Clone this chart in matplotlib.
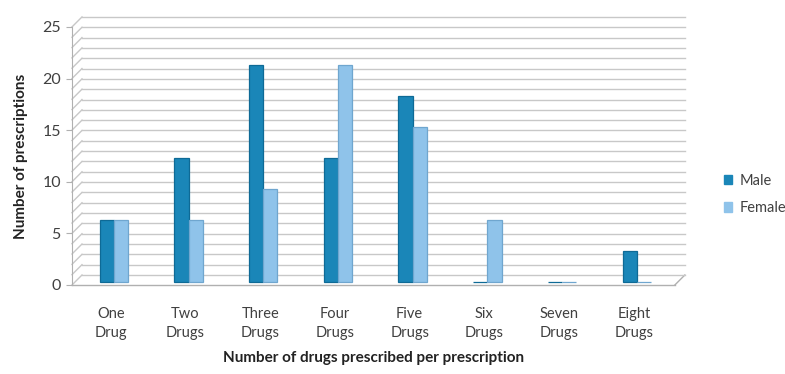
import numpy as np
import matplotlib
matplotlib.use("Agg")
import matplotlib.pyplot as plt
import matplotlib.transforms as mtransforms
from matplotlib.patches import Patch

plt.rcParams['font.family'] = ['Lato', 'DejaVu Sans']

categories = ["One\nDrug", "Two\nDrugs", "Three\nDrugs", "Four\nDrugs",
              "Five\nDrugs", "Six\nDrugs", "Seven\nDrugs", "Eight\nDrugs"]
male = [6, 12, 21, 12, 18, 0, 0, 3]
female = [6, 6, 9, 21, 15, 6, 0, 0]

male_color = "#1a86b8"
female_color = "#8fc3ea"
grid_color = "#c8c8c8"
text_color = "#404040"

fig = plt.figure(figsize=(7.85, 3.74), dpi=100, facecolor="w")
ax = fig.add_axes([0.0917, 0.238, 0.768, 0.690])

x = np.arange(len(categories))
xmin, xmax = -0.52, 7.55
ax.set_xlim(xmin, xmax)
ax.set_ylim(0, 25)

# offset for the back wall (pseudo 3D depth)
back = mtransforms.offset_copy(ax.transData, fig, x=10, y=10, units='dots')
mid = mtransforms.offset_copy(ax.transData, fig, x=3, y=3, units='dots')


def fig_line(p0, p1, color):
    W, H = fig.bbox.width, fig.bbox.height
    fig.add_artist(plt.Line2D([p0[0] / W, p1[0] / W], [p0[1] / H, p1[1] / H],
                              color=color, lw=1.0, zorder=0))


for v in range(0, 26):
    ax.plot([xmin, xmax], [v, v], color=grid_color, lw=1.0, transform=back,
            clip_on=False, zorder=0)
    # left side wall
    fig_line(ax.transData.transform((xmin, v)), back.transform((xmin, v)), grid_color)

# floor front edge and right edge
ax.plot([xmin, xmax], [0, 0], color="#b0b0b0", lw=1.0, clip_on=False, zorder=1)
fig_line(ax.transData.transform((xmax, 0)), back.transform((xmax, 0)), "#b0b0b0")

w = 0.19
b1 = ax.bar(x - w / 2, male, width=w, color=male_color, edgecolor="#0e6a96",
            linewidth=0.9, zorder=3)
b2 = ax.bar(x + w / 2, female, width=w, color=female_color, edgecolor="#6fa6cf",
            linewidth=0.9, zorder=3)
for p in list(b1) + list(b2):
    p.set_transform(mid)
    p.set_clip_on(False)

for s in ["top", "right", "bottom"]:
    ax.spines[s].set_visible(False)
ax.spines["left"].set_color("#b0b0b0")
ax.set_facecolor("none")

ax.set_yticks([0, 5, 10, 15, 20, 25])
ax.tick_params(axis='y', colors="#b0b0b0", labelcolor=text_color, labelsize=11.5,
               length=4, pad=4)
ax.set_xticks(x)
ax.set_xticklabels(categories, fontsize=10.5, color=text_color, linespacing=1.45)
ax.tick_params(axis='x', length=0, pad=16)

ax.set_ylabel("Number of prescriptions", fontsize=11, fontweight="bold",
              color="#222222", labelpad=10)
ax.set_xlabel("Number of drugs prescribed per prescription", fontsize=11,
              fontweight="bold", color="#222222", labelpad=8)

handles = [Patch(color=male_color, label="Male"),
           Patch(color=female_color, label="Female")]
fig.legend(handles=handles, loc="center left", bbox_to_anchor=(0.905, 0.48),
           frameon=False, fontsize=10.5, handlelength=0.6, handleheight=0.6,
           handletextpad=0.5, labelspacing=0.9, labelcolor=text_color)

fig.savefig("out.png", dpi=100)
